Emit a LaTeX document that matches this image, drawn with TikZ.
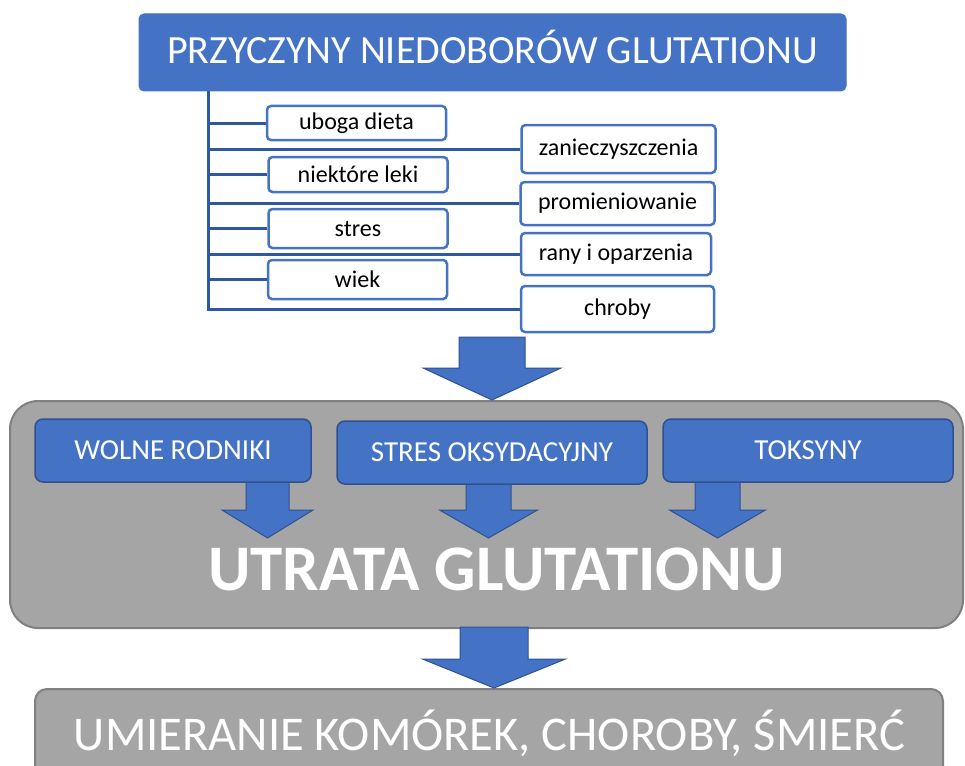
\documentclass[tikz,border=0pt]{standalone}
\usepackage{fontspec}
\setmainfont{Carlito}
\usetikzlibrary{calc}
\definecolor{glblue}{HTML}{4472C4}
\definecolor{gldark}{HTML}{2F528F}
\definecolor{glline}{HTML}{2E58A0}
\definecolor{glgray}{HTML}{A5A5A5}
\definecolor{glgraydark}{HTML}{808080}

\newcommand{\blockarrow}[5]{% from, tip, half shaft, half head, head length
  \draw [block arrow] let \p1=(#1), \p2=(#2) in
    (\x1-#3pt,\y1) -- (\x1+#3pt,\y1) -- (\x1+#3pt,\y2+#5pt) -- (\x1+#4pt,\y2+#5pt)
    -- (\x1,\y2) -- (\x1-#4pt,\y2+#5pt) -- (\x1-#3pt,\y2+#5pt) -- cycle;}

\begin{document}
\begin{tikzpicture} [
    x=1pt, y=-1pt,
    every node/.append style={align=center, inner sep=0pt},
    title box/.style={fill=glblue, draw=glblue, line width=1pt, rounded corners=5pt, text=white},
    cause box/.style={draw=glblue, fill=white, line width=2.5pt, rounded corners=4pt,
      font=\fontsize{24}{27}\selectfont},
    factor box/.style={draw=gldark, fill=glblue, line width=1.5pt, rounded corners=8pt,
      text=white, font=\fontsize{29}{32}\selectfont},
    gray box/.style={draw=glgraydark, fill=glgray, line width=2pt},
    block arrow/.style={draw=gldark, fill=glblue, line width=1pt},
    branch/.style={draw=glline, line width=3pt}
  ]
  \useasboundingbox (0,0) rectangle (965,765);

  \node [title box, minimum width=707, minimum height=77] (title) at (492.5,52.5) {};
  \node [anchor=base, text=white, font=\fontsize{40}{43}\selectfont] at (492.5,64)
    {PRZYCZYNY NIEDOBORÓW GLUTATIONU};

  % causes
  \node [cause box, minimum width=179, minimum height=34] (dieta) at (356.5,123) {uboga dieta};
  \node [cause box, minimum width=179, minimum height=35] (leki) at (358,174.5) {niektóre leki};
  \node [cause box, minimum width=179, minimum height=39] (stres) at (358,228.5) {stres};
  \node [cause box, minimum width=179, minimum height=39] (wiek) at (357.5,279.5) {wiek};
  \node [cause box, minimum width=194, minimum height=48] (zanie) at (618.5,149) {zanieczyszczenia};
  \node [cause box, minimum width=194, minimum height=43] (promien) at (617.5,203.5) {promieniowanie};
  \node [cause box, minimum width=190, minimum height=42] (rany) at (616,254) {rany i oparzenia};
  \node [cause box, minimum width=193, minimum height=46] (chroby) at (617.5,309) {chroby};

  \coordinate (trunk) at (208,91);
  \draw [branch] (trunk) |- (chroby.west);
  \foreach \n in {dieta,zanie,leki,promien,stres,rany,wiek}
    \draw [branch] (trunk |- \n.west) -- (\n.west);

  % loss
  \node [gray box, rounded corners=28pt, minimum width=953, minimum height=227] (loss) at (486.5,514.5) {};
  \coordinate (in top) at (492,337);
  \blockarrow{in top}{in top |- loss.north}{33}{69}{32}

  \coordinate (wolne out) at (267.5,478);
  \coordinate (oks out) at (488.5,480);
  \coordinate (toks out) at (717.5,478);
  \coordinate (drop) at (0,538);
  \blockarrow{wolne out}{wolne out |- drop}{21.5}{45.5}{28}
  \blockarrow{oks out}{oks out |- drop}{22.5}{49}{28}
  \blockarrow{toks out}{toks out |- drop}{22.5}{48}{28}

  \node [factor box, minimum width=276, minimum height=63] (wolne) at (173,450.5) {WOLNE RODNIKI};
  \node [factor box, minimum width=310, minimum height=63] (oks) at (492,452.5) {STRES OKSYDACYJNY};
  \node [factor box, minimum width=290, minimum height=63] (toks) at (808,450.5) {TOKSYNY};

  \node [anchor=base, text=white, font=\fontsize{65}{69}\bfseries] (utrata) at (496.5,590)
    {UTRATA GLUTATIONU};

  % death
  \node [gray box, rounded corners=12pt, minimum width=908, minimum height=120] (death) at (489,749) {};
  \coordinate (out top) at (494,627);
  \blockarrow{out top}{out top |- death.north}{34}{71.5}{29}
  \node [anchor=base, text=white, font=\fontsize{48.5}{52}\selectfont] at (489.5,750)
    {UMIERANIE KOMÓREK, CHOROBY, ŚMIERĆ};
\end{tikzpicture}
\end{document}
